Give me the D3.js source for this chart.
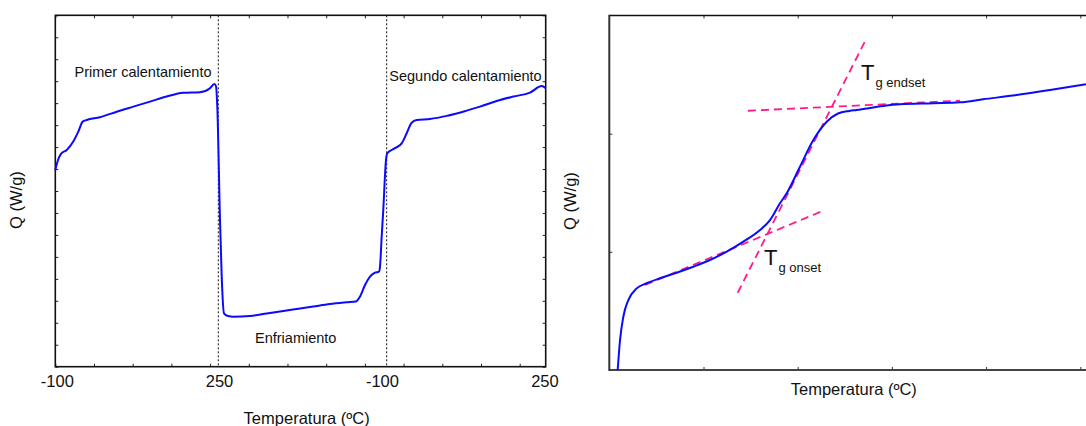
<!DOCTYPE html>
<html><head><meta charset="utf-8">
<script src="https://cdn.jsdelivr.net/npm/d3@7"></script>
<style>
html,body{margin:0;padding:0;background:#fff;}
svg{display:block;font-family:"Liberation Sans",Arial,sans-serif;}
</style></head>
<body>
<svg id="c" width="1086" height="426"></svg>
<script>
// ---------- Data: left panel (DSC cycle: heating / cooling / heating) ----------
const leftTime = [0,0.070,0.147,0.295,0.465,0.594,0.708,0.811,1.155,1.587,2.016,2.447,2.879,3.307,3.739,3.997,4.109,4.152,4.186,4.256,4.300,4.359,4.463,4.599,5.031,5.463,5.891,6.238,6.667,7.098,7.530,7.770,7.873,8.003,8.132,8.261,8.364,8.390,8.434,8.475,8.545,8.579,8.778,8.951,9.080,9.209,9.339,9.682,10.114,10.630,10.974,11.406,11.835,12.266,12.568,12.672];
const leftQ    = [8.957,9.41,9.69,9.87,10.25,10.70,11.16,11.23,11.36,11.61,11.84,12.07,12.30,12.47,12.50,12.68,12.87,12.78,11.84,6.68,4.10,2.43,2.31,2.28,2.31,2.42,2.54,2.63,2.74,2.85,2.93,2.97,3.19,3.72,4.10,4.28,4.33,4.55,5.92,7.14,9.41,9.72,9.95,10.17,10.63,11.11,11.23,11.28,11.42,11.66,11.84,12.10,12.30,12.48,12.78,12.68];
const leftTickLabels = ["-100","250","-100","250"];
const leftTickPos    = [0.04,4.23,8.44,12.64];
const leftSegmentBounds = [4.212,8.563];
const leftSegmentNames = ["Primer calentamiento","Enfriamiento","Segundo calentamiento"];

// ---------- Data: right panel (Tg determination) ----------
const rightT = [0.089,0.114,0.149,0.202,0.291,0.397,0.538,0.715,0.892,1.069,1.246,1.423,1.600,1.706,1.812,1.883,2.024,2.166,2.308,2.428,2.548,2.626,2.909,3.086,3.439,3.723,3.970,4.325,4.678,5.060];
const rightQ = [0,0.254,0.451,0.592,0.691,0.734,0.776,0.823,0.874,0.931,1.001,1.086,1.185,1.269,1.411,1.495,1.720,1.946,2.101,2.171,2.192,2.200,2.234,2.248,2.257,2.265,2.291,2.327,2.370,2.418];
const tangentLowT  = [0.379,2.289], tangentLowQ  = [0.719,1.354];
const tangentMidT  = [1.363,2.732], tangentMidQ  = [0.654,2.809];
const tangentHighT = [1.472,3.723], tangentHighQ = [2.194,2.279];

const svg = d3.select("#c");
const FONT = 14.5, AXF = 16.5;

// ================= LEFT PANEL =================
const xL = d3.scaleLinear().domain([0,12.672]).range([55.3,545.7]);
const yL = d3.scaleLinear().domain([0,16]).range([366.7,15.3]);
const gL = svg.append("g");

function inTicks(g, x, y, xt, yt){
  g.append("g").attr("transform",`translate(0,${y.range()[0]})`)
    .call(d3.axisBottom(x).tickValues(xt).tickSize(-3).tickFormat("")).call(s=>s.select(".domain").remove());
  g.append("g").attr("transform",`translate(0,${y.range()[1]})`)
    .call(d3.axisTop(x).tickValues(xt).tickSize(-3).tickFormat("")).call(s=>s.select(".domain").remove());
  g.append("g").attr("transform",`translate(${x.range()[0]},0)`)
    .call(d3.axisLeft(y).tickValues(yt).tickSize(-3).tickFormat("")).call(s=>s.select(".domain").remove());
  g.selectAll(".tick line").attr("stroke","#222").attr("stroke-width",1);
}
inTicks(gL, xL, yL, d3.range(0,13,1), d3.range(0,17,1));
gL.append("g").attr("transform",`translate(${xL.range()[1]},0)`)
  .call(d3.axisRight(yL).tickValues(d3.range(0,17,1)).tickSize(-3).tickFormat(""))
  .call(s=>s.select(".domain").remove()).selectAll(".tick line").attr("stroke","#222");

gL.append("rect").attr("x",xL(0)).attr("y",yL(16)).attr("width",xL(12.672)-xL(0)).attr("height",yL(0)-yL(16))
  .attr("fill","none").attr("stroke","#111").attr("stroke-width",1.6);

// segment separators
gL.selectAll("line.sep").data(leftSegmentBounds).join("line").attr("class","sep")
  .attr("x1",d=>xL(d)).attr("x2",d=>xL(d)).attr("y1",yL(16)).attr("y2",yL(0))
  .attr("stroke","#111").attr("stroke-width",1).attr("stroke-dasharray","2,2");

// tick labels
gL.append("g").attr("transform",`translate(0,${yL(0)})`)
  .call(d3.axisBottom(xL).tickValues(leftTickPos).tickSize(0).tickFormat((d,i)=>leftTickLabels[i]))
  .call(s=>s.select(".domain").remove())
  .call(s=>s.selectAll("text").attr("font-size",AXF).attr("font-family","Liberation Sans, Arial, sans-serif").attr("fill","#111").attr("dy",null).attr("y",20));

gL.append("path").datum(leftTime.map((t,i)=>[t,leftQ[i]]))
  .attr("d",d3.line().x(d=>xL(d[0])).y(d=>yL(d[1])).curve(d3.curveMonotoneX))
  .attr("fill","none").attr("stroke","#0a0aff").attr("stroke-width",2);

gL.append("text").attr("x",143).attr("y",77).attr("text-anchor","middle").attr("font-size",FONT).attr("fill","#111").text(leftSegmentNames[0]);
gL.append("text").attr("x",255).attr("y",343).attr("font-size",FONT).attr("fill","#111").text(leftSegmentNames[1]);
gL.append("text").attr("x",389.3).attr("y",81).attr("font-size",FONT).attr("fill","#111").text(leftSegmentNames[2]);

gL.append("text").attr("x",306.7).attr("y",423.5).attr("text-anchor","middle").attr("font-size",AXF).attr("fill","#111").text("Temperatura (ºC)");
gL.append("text").attr("transform","translate(22,200) rotate(-90)").attr("text-anchor","middle").attr("font-size",AXF).attr("fill","#111").text("Q (W/g)");

// ================= RIGHT PANEL =================
const xR = d3.scaleLinear().domain([0,5]).range([609.3,1080.3]);
const yR = d3.scaleLinear().domain([0,3]).range([370,15.5]);
const gR = svg.append("g");

gR.append("g").attr("transform",`translate(0,${yR(3)})`)
  .call(d3.axisTop(xR).tickValues(d3.range(1,6)).tickSize(-3).tickFormat("")).call(s=>s.select(".domain").remove());
gR.append("g").attr("transform",`translate(0,${yR(0)})`)
  .call(d3.axisBottom(xR).tickValues(d3.range(1,6)).tickSize(-3).tickFormat("")).call(s=>s.select(".domain").remove());
gR.append("g").attr("transform",`translate(${xR(0)},0)`)
  .call(d3.axisLeft(yR).tickValues([1,2]).tickSize(-3).tickFormat("")).call(s=>s.select(".domain").remove());
gR.selectAll(".tick line").attr("stroke","#333");

gR.append("line").attr("x1",xR(0)).attr("x2",xR(5.2)).attr("y1",yR(3)).attr("y2",yR(3)).attr("stroke","#111").attr("stroke-width",1.6);
gR.append("line").attr("x1",xR(0)).attr("x2",xR(5.2)).attr("y1",yR(0)).attr("y2",yR(0)).attr("stroke","#444").attr("stroke-width",2);
gR.append("line").attr("x1",xR(0)).attr("x2",xR(0)).attr("y1",yR(3)-0.8).attr("y2",yR(0)+1).attr("stroke","#333").attr("stroke-width",2);

const tangents = [[tangentLowT,tangentLowQ],[tangentMidT,tangentMidQ],[tangentHighT,tangentHighQ]];
gR.selectAll("line.tan").data(tangents).join("line").attr("class","tan")
  .attr("x1",d=>xR(d[0][0])).attr("y1",d=>yR(d[1][0])).attr("x2",d=>xR(d[0][1])).attr("y2",d=>yR(d[1][1]))
  .attr("stroke","#ff1a8c").attr("stroke-width",1.8).attr("stroke-dasharray","8,5");

gR.append("path").datum(rightT.map((t,i)=>[t,rightQ[i]]))
  .attr("d",d3.line().x(d=>xR(d[0])).y(d=>yR(d[1])).curve(d3.curveMonotoneX))
  .attr("fill","none").attr("stroke","#0a0aff").attr("stroke-width",2);

function tg(x,y,sub){
  const t = gR.append("text").attr("x",x).attr("y",y).attr("fill","#111");
  t.append("tspan").attr("font-size",22).text("T");
  t.append("tspan").attr("font-size",13).attr("dx",1).attr("dy",7).text(sub);
}
tg(764,265,"g onset");
tg(861,80,"g endset");

gR.append("text").attr("x",853.8).attr("y",395.3).attr("text-anchor","middle").attr("font-size",AXF).attr("fill","#111").text("Temperatura (ºC)");
gR.append("text").attr("transform","translate(576,201) rotate(-90)").attr("text-anchor","middle").attr("font-size",AXF).attr("fill","#111").text("Q (W/g)");
</script>
</body></html>
